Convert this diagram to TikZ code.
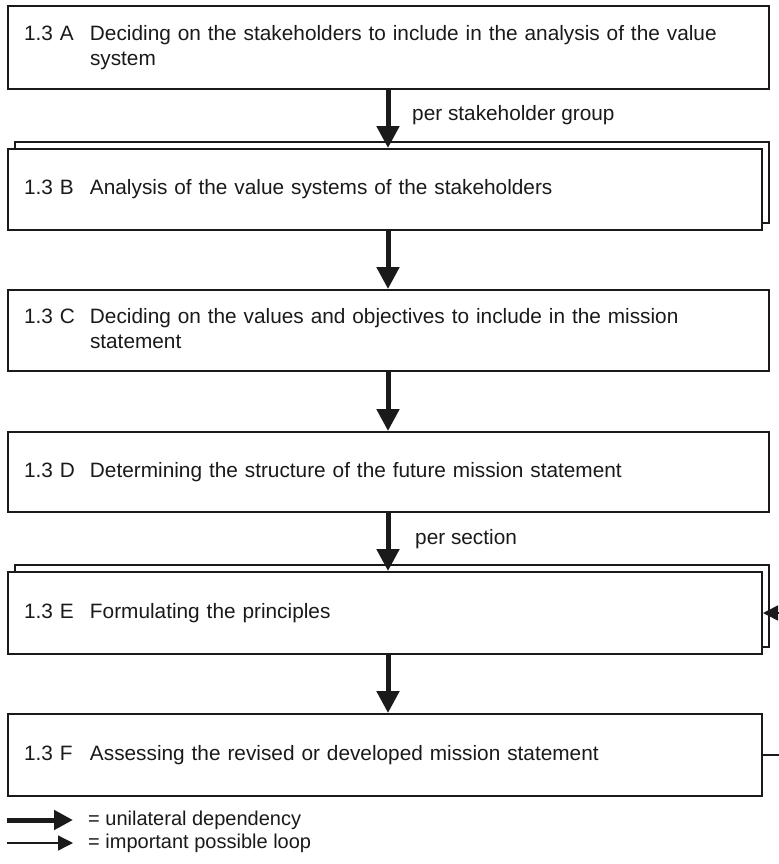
\documentclass[tikz,border=0pt]{standalone}
\usepackage{fontspec}
\setmainfont{Liberation Sans}
\usetikzlibrary{arrows.meta}
\definecolor{ink}{HTML}{1A1A1A}
\newcommand{\stepline}[2]{\begin{tabular}{@{}p{66bp}@{}l@{}}#1 & #2\end{tabular}}
\begin{document}
\begin{tikzpicture}[x=1bp,y=-1bp,
  txt/.style={font=\fontsize{20.8bp}{25bp}\selectfont, text=ink},
  stepbox/.style={txt, draw=ink, line width=2bp, fill=white, rectangle,
    inner sep=0pt, anchor=north west, align=left},
  wide/.style={minimum width=761bp, text width=729bp},
  narrow/.style={minimum width=754bp, text width=722bp},
  backbox/.style={draw=ink, line width=2bp, fill=white, rectangle,
    inner sep=0pt, anchor=north west, minimum width=754bp},
  dep/.style={draw=ink, line width=5bp, -{Triangle[width=22bp,length=22bp]}},
  looparrow/.style={draw=ink, line width=1.6bp, -{Triangle[width=15bp,length=15bp]}},
  lbl/.style={txt, inner sep=0pt, anchor=west},
  legendtxt/.style={lbl, font=\fontsize{20bp}{24bp}\selectfont}]
  % canvas
  \fill[white] (0,0) rectangle (779,864);
  \useasboundingbox (0,0) rectangle (779,864);
  \clip (0,0) rectangle (779,864);

  % step boxes (B and E are repeated per group/section: drawn as a stack)
  \node[stepbox, wide, minimum height=83bp] (A) at (7,5)
    {\stepline{1.3 A}{Deciding on the stakeholders to include in the analysis of the value}\\
     \stepline{}{system}};

  \node[backbox, minimum height=81bp] (Bback) at (14,141) {};
  \node[stepbox, narrow, minimum height=81bp] (B) at (7,148)
    {\stepline{1.3 B}{Analysis of the value systems of the stakeholders}};

  \node[stepbox, wide, minimum height=81bp] (C) at (7,289)
    {\stepline{1.3 C}{Deciding on the values and objectives to include in the mission}\\
     \stepline{}{statement}};

  \node[stepbox, wide, minimum height=80bp] (D) at (7,431)
    {\stepline{1.3 D}{Determining the structure of the future mission statement}};

  \node[backbox, minimum height=82bp] (Eback) at (14,564) {};
  \node[stepbox, narrow, minimum height=82bp] (E) at (7,571)
    {\stepline{1.3 E}{Formulating the principles}};

  \node[stepbox, narrow, minimum height=82bp] (F) at (7,713)
    {\stepline{1.3 F}{Assessing the revised or developed mission statement}};

  % dependencies
  \draw[dep] (A.south -| 388,0) -- (B.north -| 388,0);
  \draw[dep] (B.south -| 388,0) -- (C.north -| 388,0);
  \draw[dep] (C.south -| 388,0) -- (D.north -| 388,0);
  \draw[dep] (D.south -| 388,0) -- (E.north -| 388,0);
  \draw[dep] (E.south -| 388,0) -- (F.north -| 388,0);

  \node[lbl] (perA) at (412,115) {per stakeholder group};
  \node[lbl] (perD) at (415,539) {per section};

  % loop from the assessment back to formulating
  \draw[looparrow] (F.east) -- ++(30,0) |- (E.east);

  % legend
  \coordinate (depS) at (7,820);
  \coordinate (depE) at (73,820);
  \coordinate (loopS) at (7,843);
  \coordinate (loopE) at (73,843);
  \draw[dep, -{Triangle[width=19bp,length=19bp]}] (depS) -- (depE);
  \draw[looparrow, line width=1.3bp] (loopS) -- (loopE);
  \node[legendtxt] (depT) at (88,820) {= unilateral dependency};
  \node[legendtxt] (loopT) at (88,843) {= important possible loop};
\end{tikzpicture}
\end{document}
